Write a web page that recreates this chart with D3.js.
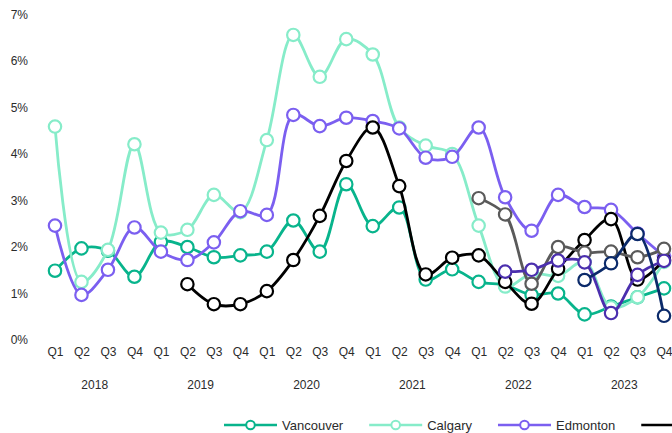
<!DOCTYPE html>
<html><head><meta charset="utf-8">
<script src="https://cdn.jsdelivr.net/npm/d3@7"></script>
<style>
body{margin:0;background:#fff;}
svg text{font-family:"Liberation Sans",Arial,sans-serif;fill:#2b2b2b;}
</style></head>
<body><svg id="c" width="672" height="433"></svg>
<script>
const quarters = ["Q1","Q2","Q3","Q4"];
const years = ["2018","2019","2020","2021","2022","2023"];
const yTicks = [0,1,2,3,4,5,6,7];
const seriesNames = ["Vancouver","Calgary","Edmonton","Toronto","Ottawa","Montreal","Halifax"];
const seriesColors = ["#08b48c","#86ecc9","#7b5ff0","#000000","#5a5a5a","#4b2fae","#0b2a6a"];
const vancouver = [1.49,1.97,1.92,1.36, 2.11,2.00,1.78,1.82, 1.90,2.57,1.90,3.35, 2.45,2.85,1.30,1.52, 1.25,1.18,0.97,1.00, 0.55,0.72,0.92,1.11];
const calgary   = [4.59,1.25,1.94,4.21, 2.31,2.37,3.12,2.75, 4.30,6.56,5.66,6.47, 6.14,4.57,4.18,4.00, 2.46,1.15,1.43,1.38, 1.68,0.70,0.92,1.68];
const edmonton  = [2.46,0.97,1.51,2.42, 1.90,1.72,2.10,2.77, 2.69,4.84,4.60,4.78, 4.71,4.55,3.92,3.94, 4.57,3.07,2.35,3.12, 2.86,2.80,2.29,1.80];
const toronto   = [null,null,null,null, null,1.20,0.77,0.77, 1.05,1.72,2.67,3.85, 4.57,3.31,1.41,1.77, 1.82,1.25,0.78,1.53, 2.15,2.60,1.30,1.72];
const ottawa    = [null,null,null,null, null,null,null,null, null,null,null,null, null,null,null,null, 3.05,2.70,1.21,2.00, 1.88,1.90,1.78,1.96];
const montreal  = [null,null,null,null, null,null,null,null, null,null,null,null, null,null,null,null, null,1.47,1.51,1.71, 1.67,0.58,1.40,1.70];
const halifax   = [null,null,null,null, null,null,null,null, null,null,null,null, null,null,null,null, null,null,null,null, 1.29,1.65,2.28,0.52];
const seriesValues = [vancouver,calgary,edmonton,toronto,ottawa,montreal,halifax];

const periods = [];
years.forEach(y=>quarters.forEach(q=>periods.push(y+" "+q)));

const W = 672;
const svg = d3.select("#c");
const x = d3.scalePoint().domain(periods).range([55,664]);
const y = d3.scaleLinear().domain([0,7]).range([340,14.5]);

// y axis labels
const yAxis = d3.axisLeft(y).tickValues(yTicks).tickFormat(d=>d+"%").tickSize(0);
const gy = svg.append("g").attr("transform","translate(28,0)").call(yAxis);
gy.select(".domain").remove();
gy.selectAll("text").attr("font-size",12).attr("x",0).style("fill","#2b2b2b").style("font-family","Liberation Sans, Arial, sans-serif");

// x axis labels
const xAxis = d3.axisBottom(x).tickFormat(d=>d.split(" ")[1]).tickSize(0);
const gx = svg.append("g").attr("transform","translate(0,344)").call(xAxis);
gx.select(".domain").remove();
gx.selectAll("text").attr("font-size",12).attr("dy","0.71em").style("fill","#2b2b2b").style("font-family","Liberation Sans, Arial, sans-serif");

svg.append("g").selectAll("text").data(years).join("text")
  .attr("x",d=>(x(d+" Q2")+x(d+" Q3"))/2)
  .attr("y",389)
  .attr("text-anchor","middle")
  .attr("font-size",12)
  .text(d=>d);

const line = d3.line()
  .defined(d=>d.v!==null)
  .x(d=>x(d.p)).y(d=>y(d.v))
  .curve(d3.curveCatmullRom.alpha(0.5));

seriesValues.forEach((vals,i)=>{
  const pts = vals.map((v,j)=>({p:periods[j],v:v}));
  const g = svg.append("g");
  g.append("path").datum(pts).attr("d",line)
    .attr("fill","none").attr("stroke",seriesColors[i]).attr("stroke-width",2.8)
    .attr("stroke-linejoin","round").attr("stroke-linecap","round");
  g.selectAll("circle").data(pts.filter(d=>d.v!==null)).join("circle")
    .attr("cx",d=>x(d.p)).attr("cy",d=>y(d.v)).attr("r",6.2)
    .attr("fill","#fff").attr("stroke",seriesColors[i]).attr("stroke-width",2.2);
});

// legend (entries beyond the right edge are clipped in the original; only visible parts drawn)
const leg = svg.append("g");
let lx = 224;
const ly = 425;
for (let i=0;i<seriesNames.length && lx < W;i++){
  const g = leg.append("g").attr("transform",`translate(${lx},${ly})`);
  g.append("line").attr("x1",0).attr("x2",53).attr("y1",0).attr("y2",0)
    .attr("stroke",seriesColors[i]).attr("stroke-width",2.6);
  if (lx + 53 > W) break;
  g.append("circle").attr("cx",26.5).attr("cy",0).attr("r",4.3)
    .attr("fill","#fff").attr("stroke",seriesColors[i]).attr("stroke-width",2);
  const t = g.append("text").attr("x",58).attr("y",0).attr("dy","0.35em")
    .attr("font-size",13).text(seriesNames[i]);
  lx += 58 + t.node().getComputedTextLength() + 26;
}
</script></body></html>
